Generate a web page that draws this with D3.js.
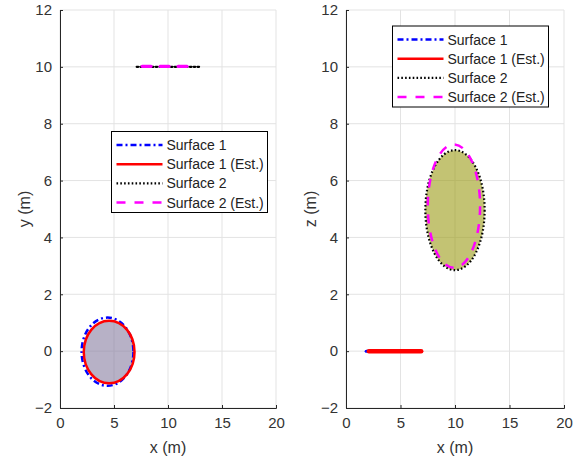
<!DOCTYPE html>
<html><head><meta charset="utf-8">
<script src="https://cdn.jsdelivr.net/npm/d3@7"></script>
<style>body{margin:0;background:#fff}text{font-family:"Liberation Sans",Arial,sans-serif}</style>
</head><body>
<svg id="c" width="586" height="462"></svg>
<script>
// ---- data ----
const xTicks = [0, 5, 10, 15, 20];
const yTicks = [-2, 0, 2, 4, 6, 8, 10, 12];
const seriesNames = ["Surface 1", "Surface 1 (Est.)", "Surface 2", "Surface 2 (Est.)"];
// ellipses: [cx, cy, rx, ry]
const xySurface1 = [4.4, -0.02, 2.4, 1.2];
const xySurface1Est = [4.55, -0.03, 2.35, 1.1];
// line segments: [x0, x1, y]
const xySurface2 = [7.1, 12.9, 10];
const xySurface2Est = [7.6, 12.1, 10.02];
const xzSurface1 = [1.85, 6.8, 0];
const xzSurface1Est = [2.1, 6.9, 0];
const xzSurface2 = [10.0, 4.96, 2.72, 2.11];
const xzSurface2Est = [9.9, 5.1, 2.4, 2.17];

const styles = [
  {color: "#0000ff", width: 2.5, dash: "6,3,2,3"},
  {color: "#ff0000", width: 2.5, dash: null},
  {color: "#000000", width: 2.2, dash: "1.6,2.2"},
  {color: "#ff00ff", width: 2.5, dash: "9,9"}
];

const svg = d3.select("#c");

function panel(left, right, ylabel, legendPos) {
  const x = d3.scaleLinear().domain([0, 20]).range([left, right]);
  const y = d3.scaleLinear().domain([-2, 12]).range([408, 10]);
  const g = svg.append("g");
  // grid
  g.selectAll(".gx").data(xTicks).join("line")
    .attr("x1", d => x(d)).attr("x2", d => x(d)).attr("y1", y(-2)).attr("y2", y(12))
    .attr("stroke", "#e3e3e3").attr("stroke-width", 1);
  g.selectAll(".gy").data(yTicks).join("line")
    .attr("y1", d => y(d)).attr("y2", d => y(d)).attr("x1", x(0)).attr("x2", x(20))
    .attr("stroke", "#e3e3e3").attr("stroke-width", 1);
  const plot = g.append("g");
  // axes
  const ax = g.append("g").attr("transform", `translate(0,${y(-2)})`)
    .call(d3.axisBottom(x).tickValues(xTicks).tickSize(-3).tickPadding(9));
  const ay = g.append("g").attr("transform", `translate(${x(0)},0)`)
    .call(d3.axisLeft(y).tickValues(yTicks).tickSize(-3).tickPadding(8));
  [ax, ay].forEach(a => {
    a.select(".domain").attr("stroke", "#262626");
    a.selectAll(".tick line").attr("stroke", "#262626");
    a.selectAll("text").attr("font-size", 15).attr("fill", "#333")
      .attr("font-family", '"Liberation Sans",Arial,sans-serif');
  });
  g.append("text").attr("x", (left + right) / 2).attr("y", 453).attr("text-anchor", "middle")
    .attr("font-size", 16).attr("fill", "#333").text("x (m)");
  g.append("text").attr("transform", `translate(${left - 30},${y(5)}) rotate(-90)`)
    .attr("text-anchor", "middle").attr("font-size", 16).attr("fill", "#333").text(ylabel);
  // legend
  const lg = g.append("g");
  lg.append("rect").attr("x", legendPos[0]).attr("y", legendPos[1])
    .attr("width", 156).attr("height", 81).attr("fill", "#fff").attr("stroke", "#000").attr("stroke-width", 1);
  seriesNames.forEach((n, i) => {
    const yy = legendPos[1] + 13.5 + i * 19.2;
    const s = styles[i];
    lg.append("line").attr("x1", legendPos[0] + 5).attr("x2", legendPos[0] + 51)
      .attr("y1", yy).attr("y2", yy).attr("stroke", s.color).attr("stroke-width", s.width)
      .attr("stroke-dasharray", s.dash);
    lg.append("text").attr("x", legendPos[0] + 55).attr("y", yy + 5).attr("font-size", 14)
      .attr("fill", "#222").text(n);
  });
  return {x, y, plot};
}

function ellipse(p, e, s, fill, op) {
  p.plot.append("ellipse").attr("cx", p.x(e[0])).attr("cy", p.y(e[1]))
    .attr("rx", p.x(e[0] + e[2]) - p.x(e[0])).attr("ry", p.y(e[1]) - p.y(e[1] + e[3]))
    .attr("fill", fill || "none").attr("fill-opacity", op || 0)
    .attr("stroke", s ? s.color : "none").attr("stroke-width", s ? s.width : 0)
    .attr("stroke-dasharray", s ? s.dash : null);
}
function seg(p, l, s, w) {
  p.plot.append("line").attr("x1", p.x(l[0])).attr("x2", p.x(l[1]))
    .attr("y1", p.y(l[2])).attr("y2", p.y(l[2]))
    .attr("stroke", s.color).attr("stroke-width", w || s.width)
    .attr("stroke-dasharray", s.dash).attr("stroke-linecap", "round");
}

const L = panel(60, 276, "y (m)", [111.5, 131.5]);
ellipse(L, xySurface1Est, null, "rgb(135,125,160)", 0.6);
ellipse(L, xySurface1, styles[0]);
ellipse(L, xySurface1Est, styles[1]);
seg(L, xySurface2, styles[2]);
seg(L, xySurface2Est, styles[3], 3.2);

const R = panel(346, 564, "z (m)", [392.5, 26]);
seg(R, xzSurface1, {color: "#0000ff", width: 3, dash: null}, 3);
seg(R, xzSurface1Est, {color: "#ff0000", width: 4.5, dash: null}, 4.5);
ellipse(R, xzSurface2, null, "rgb(155,155,22)", 0.6);
ellipse(R, xzSurface2, styles[2]);
ellipse(R, xzSurface2Est, styles[3]);
</script>
</body></html>
